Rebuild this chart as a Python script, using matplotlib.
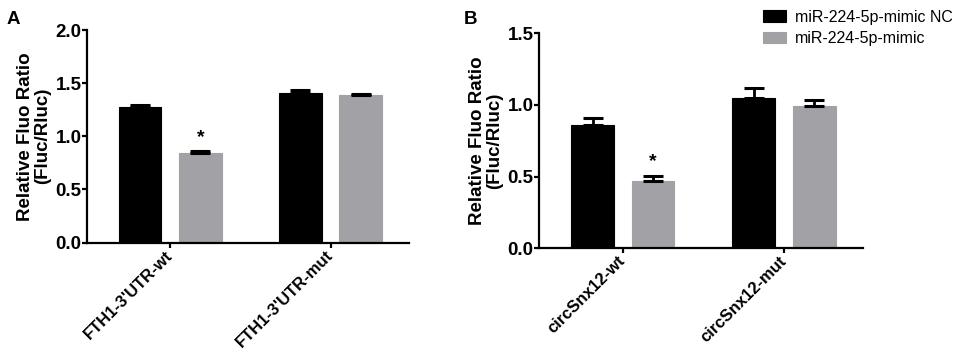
import matplotlib

matplotlib.use("Agg")
import matplotlib.pyplot as plt
import numpy as np

plt.rcParams["font.family"] = ["Liberation Sans", "DejaVu Sans"]
plt.rcParams["font.weight"] = "bold"

SERIES = ["miR-224-5p-mimic NC", "miR-224-5p-mimic"]
COLORS = ["#000000", "#a2a1a6"]

groups_a = ["FTH1-3'UTR-wt", "FTH1-3'UTR-mut"]
nc_a = [1.28, 1.41]
nc_a_err = [0.01, 0.03]
mimic_a = [0.84, 1.39]
mimic_a_err = [0.02, 0.01]

groups_b = ["circSnx12-wt", "circSnx12-mut"]
nc_b = [0.86, 1.05]
nc_b_err = [0.05, 0.065]
mimic_b = [0.47, 0.99]
mimic_b_err = [0.035, 0.045]

BAR_W = 0.265
OFFSET = 0.1875


def draw_panel(ax, groups, nc, nc_err, mimic, mimic_err, ymax, star_idx):
    x = np.arange(len(groups))
    for vals, errs, color, sign, label in [
        (nc, nc_err, COLORS[0], -1, SERIES[0]),
        (mimic, mimic_err, COLORS[1], 1, SERIES[1]),
    ]:
        ax.bar(x + sign * OFFSET, vals, BAR_W, color=color, edgecolor=color,
               linewidth=0.8, label=label, zorder=2)
        ax.errorbar(x + sign * OFFSET, vals, yerr=[np.zeros(len(vals)), errs],
                    fmt="none", ecolor="black", elinewidth=2, capsize=7,
                    capthick=2.2, zorder=3)
    for i in star_idx:
        ax.text(i + OFFSET, mimic[i] + mimic_err[i] + 0.025 * ymax, "*",
                ha="center", va="bottom", fontsize=14, fontweight="bold")
    ax.set_xlim(-0.52, 1.49)
    ax.set_ylim(0, ymax)
    ticks = np.arange(0, ymax + 0.01, 0.5)
    ax.set_yticks(ticks)
    ax.set_yticklabels([f"{v:.1f}" for v in ticks], fontsize=13.5,
                       fontweight="bold")
    ax.set_xticks(x)
    ax.set_xticklabels(groups, rotation=45, ha="right", va="center",
                       rotation_mode="anchor", fontsize=12, fontweight="bold")
    ax.set_ylabel("Relative Fluo Ratio\n(Fluc/Rluc)", fontsize=13.5,
                  fontweight="bold", labelpad=3, linespacing=1.05)
    for side in ["top", "right"]:
        ax.spines[side].set_visible(False)
    for side in ["left", "bottom"]:
        ax.spines[side].set_linewidth(1.6)
    ax.tick_params(axis="both", width=1.6, length=3.5, direction="out", pad=0.5)
    ax.tick_params(axis="x", pad=4)


fig = plt.figure(figsize=(9.57, 3.53), dpi=100)
ax_a = fig.add_axes([0.0909, 0.313, 0.3365, 0.602])
ax_b = fig.add_axes([0.5632, 0.2966, 0.3386, 0.6091])

draw_panel(ax_a, groups_a, nc_a, nc_a_err, mimic_a, mimic_a_err, 2.0, [0])
draw_panel(ax_b, groups_b, nc_b, nc_b_err, mimic_b, mimic_b_err, 1.5, [0])

fig.text(0.007, 0.968, "A", fontsize=13.5, fontweight="bold", va="top")
fig.text(0.485, 0.968, "B", fontsize=13.5, fontweight="bold", va="top")

handles, labels = ax_b.get_legend_handles_labels()
fig.legend(handles, labels, loc="upper left", bbox_to_anchor=(0.787, 1.0),
           frameon=False, handlelength=1.45, handleheight=0.75,
           handletextpad=0.55, labelspacing=0.4, borderaxespad=0.2,
           prop={"weight": "normal", "size": 11.5})

fig.savefig("out.png", dpi=100)
